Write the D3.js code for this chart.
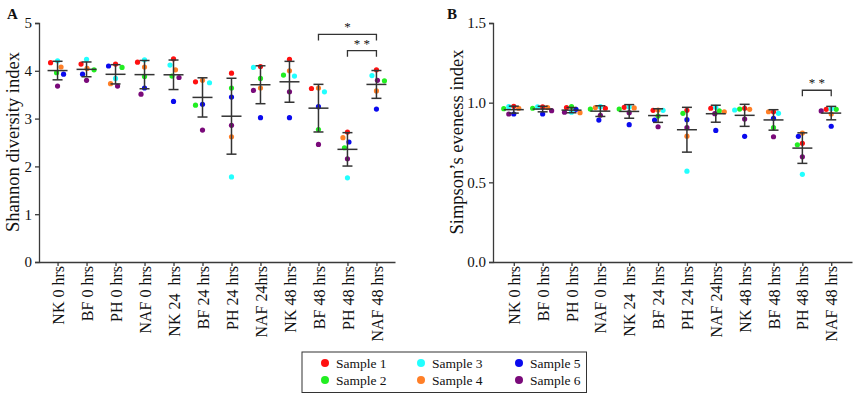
<!DOCTYPE html>
<html><head><meta charset="utf-8">
<script src="https://cdn.jsdelivr.net/npm/d3@7"></script>
<style>
body{margin:0;background:#fff;}
svg{display:block;}
text{font-family:"Liberation Serif","Times New Roman",serif;fill:#111;}
</style></head>
<body>
<svg id="chart" width="856" height="397"></svg>
<script>
// ---------- data ----------
const categories = ["NK 0 hrs","BF 0 hrs","PH 0 hrs","NAF 0 hrs","NK 24  hrs","BF 24 hrs","PH 24 hrs","NAF 24hrs","NK 48 hrs","BF 48 hrs","PH 48 hrs","NAF 48 hrs"];
const samples = ["Sample 1","Sample 2","Sample 3","Sample 4","Sample 5","Sample 6"];
const sampleColors = ["#ff1010","#22ee22","#22ffff","#ff7f27","#0a0aee","#7a0a7a"];
// values per category, in sample order 1..6
const shannon = [
  [4.17,3.96,4.21,4.08,3.93,3.68],
  [4.14,4.02,4.24,4.05,3.93,3.80],
  [4.14,4.07,3.84,3.73,4.10,3.68],
  [4.18,3.88,4.23,4.08,3.64,3.51],
  [4.25,3.89,4.12,4.02,3.36,3.86],
  [3.77,3.28,3.75,3.80,3.30,2.76],
  [3.95,3.64,1.78,2.62,3.45,2.86],
  [4.09,3.84,4.07,3.64,3.02,3.59],
  [4.24,3.91,3.89,4.00,3.02,3.56],
  [3.63,2.77,3.56,3.64,3.25,2.46],
  [2.72,2.39,1.76,2.60,2.51,2.16],
  [4.02,3.79,3.90,3.58,3.20,3.80]
];
const simpson = [
  [0.977,0.962,0.975,0.965,0.929,0.929],
  [0.973,0.965,0.973,0.969,0.929,0.950],
  [0.969,0.975,0.940,0.937,0.958,0.940],
  [0.965,0.960,0.975,0.969,0.891,0.921],
  [0.971,0.960,0.973,0.967,0.862,0.937],
  [0.952,0.916,0.952,0.954,0.891,0.849],
  [0.952,0.933,0.570,0.790,0.893,0.843],
  [0.965,0.948,0.971,0.943,0.826,0.931],
  [0.965,0.960,0.954,0.958,0.789,0.897],
  [0.943,0.843,0.933,0.943,0.902,0.786],
  [0.745,0.736,0.550,0.809,0.789,0.660],
  [0.958,0.958,0.962,0.929,0.852,0.948]
];
const ticksA = [0,1,2,3,4,5];
const ticksB = [0,0.5,1.0,1.5];
const bracketsA = [
  {from:"BF 48 hrs", to:"NAF 48 hrs", level:4.76, label:"*"},
  {from:"PH 48 hrs", to:"NAF 48 hrs", level:4.42, label:"**"}
];
const bracketsB = [
  {from:"PH 48 hrs", to:"NAF 48 hrs", level:1.078, label:"**"}
];

// ---------- drawing ----------
const svg = d3.select("#chart");
const axisColor = "#3a3a3a";
const R = 2.6;

function panel(opts){
  const g = svg.append("g");
  const x = d3.scalePoint().domain(categories).range(opts.xRange).padding(opts.pad);
  const y = d3.scaleLinear().domain(opts.yDomain).range([262, 23]);

  // y axis
  const ya = g.append("g").attr("transform",`translate(${opts.xRange[0]},0)`)
    .call(d3.axisLeft(y).tickValues(opts.ticks).tickFormat(opts.fmt).tickSize(4).tickPadding(3));
  ya.select(".domain").attr("stroke",axisColor).attr("stroke-width",1.3);
  ya.selectAll(".tick line").attr("stroke",axisColor).attr("stroke-width",1.3);
  ya.selectAll(".tick text").attr("font-family","Liberation Serif").attr("font-size",15).attr("fill","#111");

  // x axis
  const xa = g.append("g").attr("transform","translate(0,262)")
    .call(d3.axisBottom(x).tickSize(4).tickSizeOuter(0));
  xa.select(".domain").attr("stroke",axisColor).attr("stroke-width",1.3);
  xa.selectAll(".tick line").attr("stroke",axisColor).attr("stroke-width",1.3);
  xa.selectAll(".tick text")
    .attr("font-family","Liberation Serif").attr("font-size",16).attr("fill","#111")
    .attr("text-anchor","end").attr("transform","rotate(-90)")
    .attr("x",-4).attr("y",0).attr("dy","0.35em")
    .style("white-space","pre");

  // y title
  g.append("text").attr("transform",`translate(${opts.titleX},142) rotate(-90)`)
    .attr("text-anchor","middle").attr("font-size",18.5).text(opts.title);
  // panel letter
  g.append("text").attr("x",opts.letterX).attr("y",19).attr("font-family","Liberation Sans, Arial, sans-serif")
    .attr("font-weight","bold").attr("font-size",15).text(opts.letter);

  // points with dodge
  opts.values.forEach((vals,ci)=>{
    const cx = x(categories[ci]);
    const order = vals.map((v,i)=>i).sort((a,b)=>vals[b]-vals[a]);
    const placed = [];
    const pos = new Array(vals.length);
    order.forEach(i=>{
      const py = y(vals[i]);
      let off = 0;
      for(let k=0;k<80;k++){
        const cand = (k%2===0?1:-1)*Math.ceil(k/2)*0.5;
        if(placed.every(p=>Math.hypot(p[0]-cand,p[1]-py) >= opts.gap)){off=cand;break;}
      }
      placed.push([off,py]);
      pos[i]=[cx+off,py];
    });
    g.append("g").selectAll("circle").data(vals).join("circle")
      .attr("cx",(d,i)=>pos[i][0]).attr("cy",(d,i)=>pos[i][1]).attr("r",R)
      .attr("fill",(d,i)=>sampleColors[i]);

    // mean ± SD
    const m = d3.mean(vals), sd = d3.deviation(vals);
    const eg = g.append("g").attr("stroke","#333").attr("stroke-width",1.5);
    eg.append("line").attr("x1",cx-10).attr("x2",cx+10).attr("y1",y(m)).attr("y2",y(m));
    eg.append("line").attr("x1",cx).attr("x2",cx).attr("y1",y(m+sd)).attr("y2",y(m-sd));
    eg.append("line").attr("x1",cx-5).attr("x2",cx+5).attr("y1",y(m+sd)).attr("y2",y(m+sd));
    eg.append("line").attr("x1",cx-5).attr("x2",cx+5).attr("y1",y(m-sd)).attr("y2",y(m-sd));
  });

  // significance brackets
  opts.brackets.forEach(b=>{
    const x1 = x(b.from), x2 = x(b.to), yy = y(b.level);
    g.append("path").attr("d",`M${x1},${yy+6}V${yy}H${x2}V${yy+6}`)
      .attr("fill","none").attr("stroke","#333").attr("stroke-width",1.3);
    g.append("text").attr("x",(x1+x2)/2).attr("y",yy-3).attr("text-anchor","middle")
      .attr("font-family","Liberation Sans, Arial, sans-serif").attr("font-size",13).attr("fill","#333")
      .text(b.label.split("").join(" "));
  });
}

panel({xRange:[39,395], pad:0.64, yDomain:[0,5], ticks:ticksA, fmt:d3.format("d"), gap:7,
  title:"Shannon diversity index", titleX:19, letter:"A", letterX:7, values:shannon, brackets:bracketsA});
panel({xRange:[493,852], pad:0.72, yDomain:[0,1.5], ticks:ticksB, fmt:d3.format(".1f"), gap:5,
  title:"Simpson’s eveness index", titleX:463, letter:"B", letterX:447, values:simpson, brackets:bracketsB});

// legend
const lg = svg.append("g");
lg.append("rect").attr("x",302).attr("y",352).attr("width",284.5).attr("height",40.5)
  .attr("fill","#fff").attr("stroke","#333").attr("stroke-width",1);
const colX = [325,421,519];
const rowY = [363,380];
samples.forEach((s,i)=>{
  const cx = colX[Math.floor(i/2)], cy = rowY[i%2];
  lg.append("circle").attr("cx",cx).attr("cy",cy).attr("r",4).attr("fill",sampleColors[i]);
  lg.append("text").attr("x",cx+11).attr("y",cy+4.5).attr("font-size",13.5).text(s);
});
</script>
</body></html>
